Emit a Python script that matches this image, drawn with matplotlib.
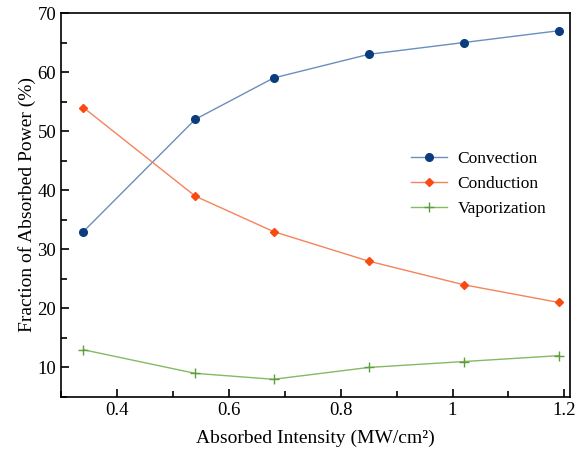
import matplotlib
matplotlib.use("Agg")
import matplotlib.pyplot as plt
from matplotlib.ticker import MultipleLocator

plt.rcParams['font.family'] = ['Liberation Serif', 'DejaVu Serif']

intensity = [0.34, 0.54, 0.68, 0.85, 1.02, 1.19]
convection = [33, 52, 59, 63, 65, 67]
conduction = [54, 39, 33, 28, 24, 21]
vaporization = [13, 9, 8, 10, 11, 12]

fig = plt.figure(figsize=(5.8, 4.51), dpi=100)
ax = fig.add_axes([61/580, 1-397/451, (570-61)/580, (397-13)/451])

ax.plot(intensity, convection, color='#6a8fbf', lw=1.0, marker='o', ms=5.5,
        mfc='#0b3d7e', mec='#0b3d7e', label='Convection')
ax.plot(intensity, conduction, color='#f7835a', lw=1.0, marker='D', ms=4,
        mfc='#f94a12', mec='#f94a12', label='Conduction')
ax.plot(intensity, vaporization, color='#86b964', lw=1.0, marker='+', ms=7,
        mfc='#5c9e3a', mec='#5c9e3a', label='Vaporization')

ax.set_xlim(0.30, 1.21)
ax.set_ylim(5, 70)
ax.xaxis.set_minor_locator(MultipleLocator(0.1))
ax.yaxis.set_minor_locator(MultipleLocator(5))
ax.set_xticks([0.4, 0.6, 0.8, 1.0, 1.2])
ax.set_xticklabels(['0.4', '0.6', '0.8', '1', '1.2'])
ax.set_yticks([10, 20, 30, 40, 50, 60, 70])
ax.tick_params(which='both', direction='in', top=False, right=False, labelsize=13.5)
ax.tick_params(which='major', length=6, width=1.2)
ax.tick_params(which='minor', length=4, width=1.2)
for s in ax.spines.values():
    s.set_linewidth(1.2)

ax.set_xlabel('Absorbed Intensity (MW/cm²)', fontsize=14, labelpad=8)
ax.set_ylabel('Fraction of Absorbed Power (%)', fontsize=14, labelpad=1)

ax.legend(loc='center left', bbox_to_anchor=(0.656, 0.555), frameon=False,
          fontsize=12.5, handlelength=2.1, handletextpad=0.6, labelspacing=0.5)

fig.savefig('out.png', dpi=100)
